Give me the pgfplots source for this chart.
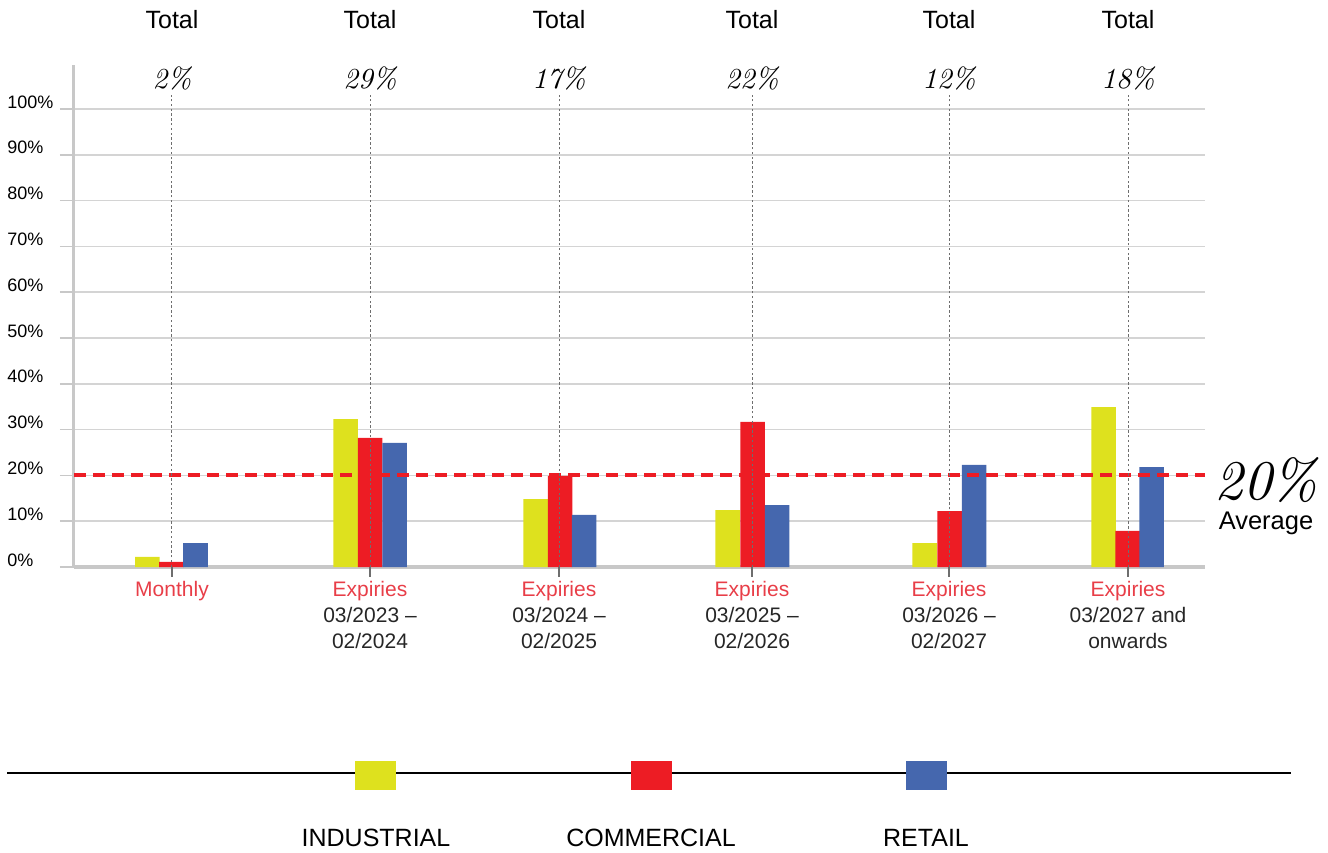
\documentclass[border=0pt]{standalone}
\usepackage{pgfplots}
\pgfplotsset{compat=1.18}
\usepackage{fontspec}
\setmainfont{Liberation Sans}
\newfontfamily\lmit{lmroman10-italic.otf}
\definecolor{cyel}{RGB}{222,225,30}
\definecolor{cred}{RGB}{237,28,36}
\definecolor{cblue}{RGB}{69,103,174}
\definecolor{lred}{RGB}{232,62,72}
\definecolor{gridg}{RGB}{212,212,212}
\definecolor{axisg}{RGB}{200,200,200}
\definecolor{dotg}{RGB}{110,110,110}
\begin{document}
\begin{tikzpicture}
\useasboundingbox (0,0) rectangle (664pt,-426pt);
\begin{axis}[
  at={(37pt,-283.5pt)}, anchor=south west,
  scale only axis, width=565.5pt, height=251pt,
  xmin=74, xmax=1205, ymin=0, ymax=109.6,
  axis lines=left,
  axis line style={-, draw=axisg},
  x axis line style={line width=2pt},
  y axis line style={line width=1.5pt},
  ytick={0,10,...,100},
  yticklabels={0\%,10\%,20\%,30\%,40\%,50\%,60\%,70\%,80\%,90\%,100\%},
  yticklabel style={anchor=west, inner sep=0pt, xshift=-26.5pt, yshift=3.5pt, font=\fontsize{9}{10}\selectfont},
  ytick style={draw=axisg, line width=0.8pt},
  ymajorgrids, grid style={draw=gridg, line width=0.8pt},
  tick align=outside,
  major tick length=7pt,
  xtick={172,370,559,752,949,1128},
  xticklabels={{\textcolor{lred}{Monthly}},
    {\textcolor{lred}{Expiries}\\03/2023 –\\02/2024},
    {\textcolor{lred}{Expiries}\\03/2024 –\\02/2025},
    {\textcolor{lred}{Expiries}\\03/2025 –\\02/2026},
    {\textcolor{lred}{Expiries}\\03/2026 –\\02/2027},
    {\textcolor{lred}{Expiries}\\03/2027 and\\onwards}},
  xticklabel style={align=center, anchor=north, inner sep=0pt, yshift=0pt, font=\fontsize{10.5}{13}\selectfont, text=black!85},
  xtick style={draw=none},
  clip=false,
  ybar, bar width=24.5, bar shift=0pt,
]
\addplot[fill=cyel, draw=none] coordinates {(147.5,2.2) (345.5,32.3) (535.5,14.8) (727.5,12.4) (924.5,5.2) (1103.5,34.9)};
\addplot[fill=cred, draw=none] coordinates {(171.5,1.1) (370,28.2) (560,19.9) (752.5,31.7) (949.5,12.2) (1127.5,7.9)};
\addplot[fill=cblue, draw=none] coordinates {(195.5,5.2) (394.5,27.1) (584,11.4) (777,13.5) (974,22.3) (1151.5,21.8)};
\addplot[sharp plot, draw=cred, line width=2pt, dash pattern=on 6pt off 3.5pt] coordinates {(74,20) (1205,20)};
\foreach \xx in {172,370,559,752,949,1128}{
  \edef\tmp{\noexpand\draw[dotg, line width=0.5pt, dash pattern=on 1.2pt off 1.2pt] (axis cs:\xx,0) -- (axis cs:\xx,103.1);
  \noexpand\draw[dotg, line width=0.6pt] (axis cs:\xx,0) -- ++(0pt,-5pt);}\tmp
}
\end{axis}
\begin{scope}[x=0.5pt, y=-0.5pt]
\foreach \xx/\pp in {172/2,370/29,559/17,752/22,949/12,1128/18}{
  \node[font=\fontsize{12.5}{14}\selectfont] at (\xx,20) {Total};
  \node[font=\fontsize{14.5}{16}\selectfont\lmit] at (\xx,78) {\pp\%};
}
\node[font=\fontsize{28}{30}\selectfont\lmit] at (1266,480) {20\%};
\node[font=\fontsize{12.75}{14}\selectfont] at (1266,523) {Average};
\draw[black, line width=1.2pt] (7,773) -- (1291,773);
\fill[cyel] (355,761) rectangle (396,790);
\fill[cred] (631,761) rectangle (672,790);
\fill[cblue] (906,761) rectangle (947,790);
\node[font=\fontsize{12.5}{14}\selectfont] at (376,838) {INDUSTRIAL};
\node[font=\fontsize{12.5}{14}\selectfont] at (651,838) {COMMERCIAL};
\node[font=\fontsize{12.5}{14}\selectfont] at (926,838) {RETAIL};
\end{scope}
\end{tikzpicture}
\end{document}
